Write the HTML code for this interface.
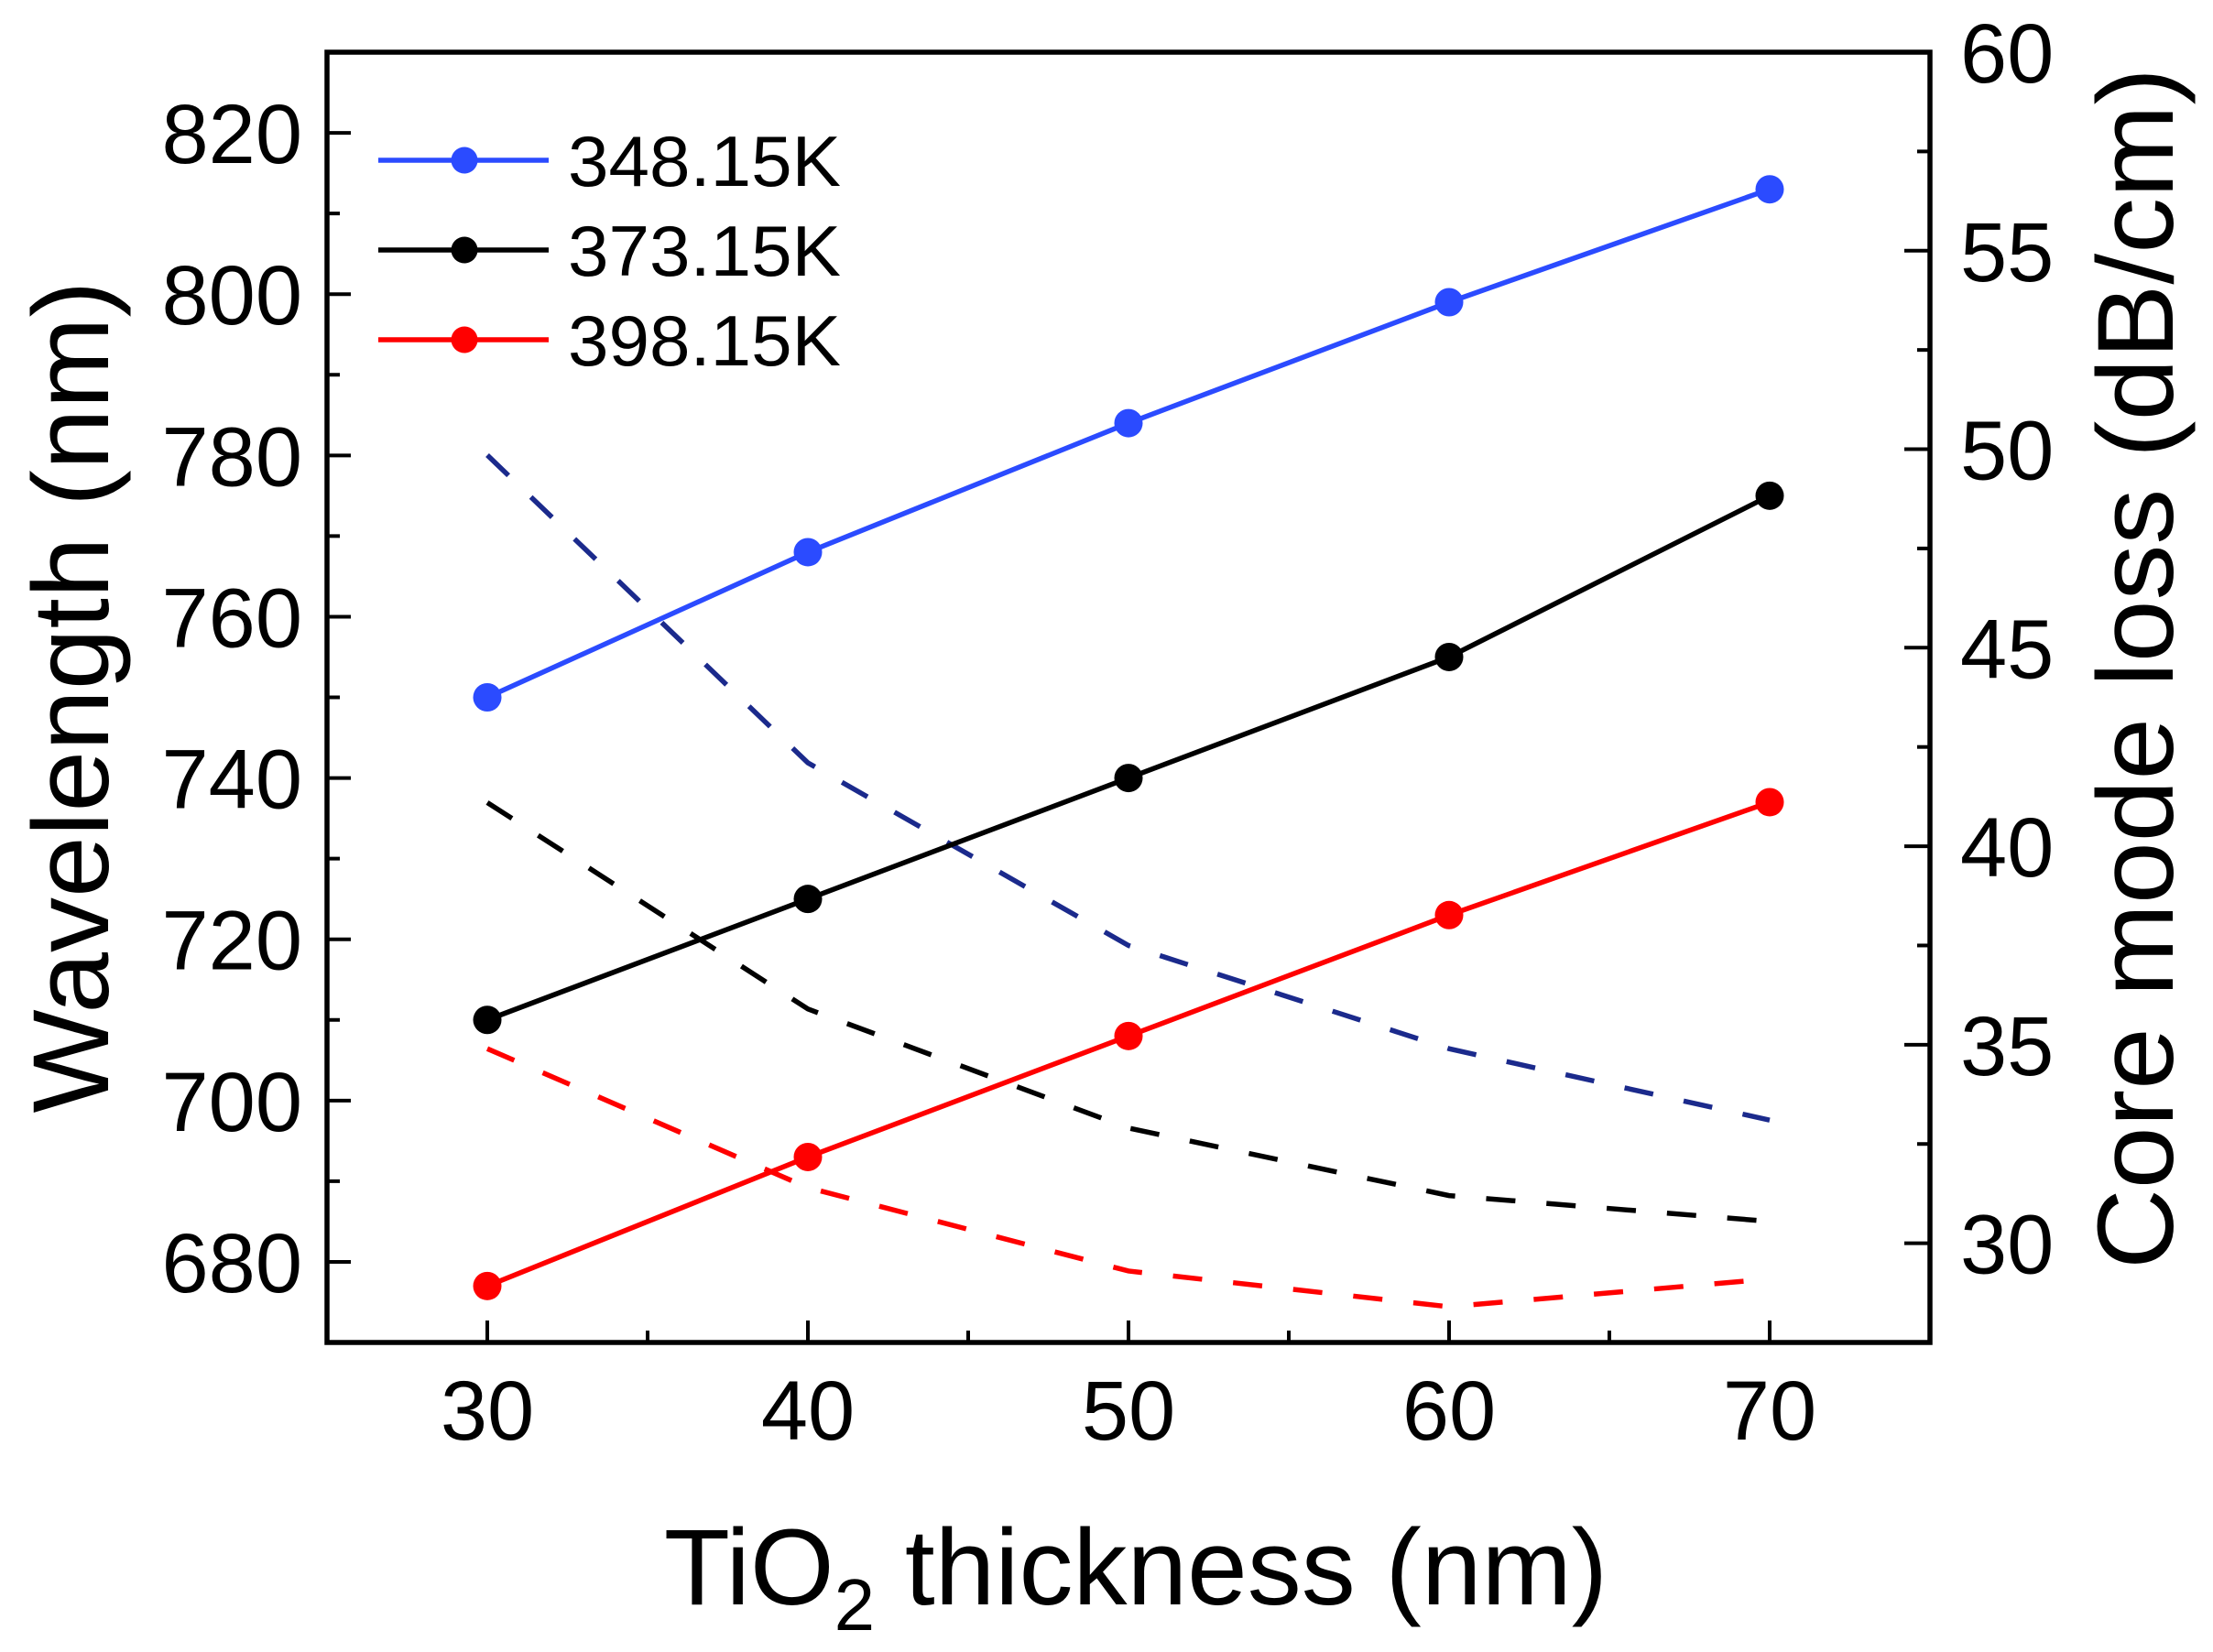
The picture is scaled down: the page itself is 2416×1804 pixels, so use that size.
<!DOCTYPE html>
<html><head><meta charset="utf-8"><style>
html,body{margin:0;padding:0;background:#fff}
svg{display:block}
text{font-family:"Liberation Sans",Arial,sans-serif;fill:#000}
</style></head><body>
<svg id="chart" width="2416" height="1804" viewBox="0 0 2416 1804" xmlns="http://www.w3.org/2000/svg">
<g id="axes"></g>
<g id="series"></g>
<g id="legend"></g>
</svg>
<script>
const thickness = [30, 40, 50, 60, 70];
const wl348 = [750, 768, 784, 799, 813];
const wl373 = [710, 725, 740, 755, 775];
const wl398 = [677, 693, 708, 723, 737];
const loss348 = [49.85, 42.1, 37.5, 34.9, 33.1];
const loss373 = [41.1, 35.9, 32.9, 31.2, 30.55];
const loss398 = [34.9, 31.4, 29.3, 28.4, 29.1];
const xTicks = [30, 40, 50, 60, 70];
const yLeftTicks = [680, 700, 720, 740, 760, 780, 800, 820];
const yRightTicks = [30, 35, 40, 45, 50, 55, 60];
const seriesNames = ["348.15K", "373.15K", "398.15K"];

const NS = "http://www.w3.org/2000/svg";
const L = 357, R = 2107, T = 57, B = 1466;
const X = v => L + (v - 25) / 50 * (R - L);
const YL = v => B - (v - 670) / 160 * (B - T);
const YR = v => B - (v - 27.5) / 32.5 * (B - T);
function mk(tag, attrs, parent, txt) {
  const e = document.createElementNS(NS, tag);
  for (const k in attrs) e.setAttribute(k, attrs[k]);
  if (txt !== undefined) e.textContent = txt;
  parent.appendChild(e);
  return e;
}
const axes = document.getElementById('axes');
const ser = document.getElementById('series');
const leg = document.getElementById('legend');

let fr = mk('rect', {x: L, y: T, width: R - L, height: B - T, fill: 'none', stroke: '#000', 'stroke-width': 5.5}, axes);



for (let v = 25; v <= 75; v += 5) {
  const major = xTicks.includes(v);
  const t = mk('line', {x1: X(v), x2: X(v), y1: B, y2: B - (major ? 24 : 13), stroke: '#000', 'stroke-width': 4}, axes);
  
  
}
xTicks.forEach(v => {
  const t = mk('text', {x: X(v), y: 1572, 'font-size': 92, 'text-anchor': 'middle'}, axes, String(v));
  
  
});
for (let v = 670; v <= 830; v += 10) {
  const major = yLeftTicks.includes(v);
  const t = mk('line', {x1: L, x2: L + (major ? 26 : 14), y1: YL(v), y2: YL(v), stroke: '#000', 'stroke-width': 4}, axes);
  
  
}
yLeftTicks.forEach(v => {
  const t = mk('text', {x: 330, y: YL(v) + 33, 'font-size': 92, 'text-anchor': 'end'}, axes, String(v));
  
  
});
for (let v = 30; v <= 60; v += 2.5) {
  const major = yRightTicks.includes(v);
  const t = mk('line', {x1: R, x2: R - (major ? 28 : 14), y1: YR(v), y2: YR(v), stroke: '#000', 'stroke-width': 4}, axes);
  
  
}
yRightTicks.forEach(v => {
  const t = mk('text', {x: 2140, y: YR(v) + 33, 'font-size': 92, 'text-anchor': 'start'}, axes, String(v));
  
  
});
let xt = mk('text', {x: 1240, y: 1752, 'font-size': 118, 'text-anchor': 'middle'}, axes);


mk('tspan', {}, xt, 'TiO');
mk('tspan', {'font-size': 80, dy: 28}, xt, '2');
mk('tspan', {dy: -28}, xt, ' thickness (nm)');
let yt = mk('text', {x: 0, y: 0, 'font-size': 118, 'text-anchor': 'middle', transform: 'translate(118,761) rotate(-90)', textLength: 909, lengthAdjust: 'spacingAndGlyphs'}, axes, 'Wavelength (nm)');


let yr = mk('text', {x: 0, y: 0, 'font-size': 118, 'text-anchor': 'middle', transform: 'translate(2372,730) rotate(-90)', textLength: 1312, lengthAdjust: 'spacingAndGlyphs'}, axes, 'Core mode loss (dB/cm)');



const dashed = [[loss348, '#1b2a8c', 'loss-348'], [loss373, '#000', 'loss-373'], [loss398, '#ff0000', 'loss-398']];
dashed.forEach(([arr, col, nm]) => {
  const pts = thickness.map((x, i) => X(x) + ',' + YR(arr[i])).join(' ');
  const p = mk('polyline', {points: pts, fill: 'none', stroke: col, 'stroke-width': 5.5, 'stroke-dasharray': '32 34'}, ser);
  
  
});
const solids = [[wl348, '#2b4bff', 'wavelength-348'], [wl373, '#000', 'wavelength-373'], [wl398, '#ff0000', 'wavelength-398']];
solids.forEach(([arr, col, nm]) => {
  const pts = thickness.map((x, i) => X(x) + ',' + YL(arr[i])).join(' ');
  const p = mk('polyline', {points: pts, fill: 'none', stroke: col, 'stroke-width': 5.5}, ser);
  
  
  thickness.forEach((x, i) => {
    const c = mk('circle', {cx: X(x), cy: YL(arr[i]), r: 15.5, fill: col}, ser);
    
    
  });
});
const legCols = ['#2b4bff', '#000', '#ff0000'];
const legY = [175, 273, 371];
seriesNames.forEach((s, i) => {
  const g = mk('g', {}, leg);
  
  
  mk('line', {x1: 413, x2: 599, y1: legY[i], y2: legY[i], stroke: legCols[i], 'stroke-width': 5.5}, g);
  mk('circle', {cx: 507, cy: legY[i], r: 14.5, fill: legCols[i]}, g);
  mk('text', {x: 620, y: legY[i] + 28, 'font-size': 78, textLength: 298, lengthAdjust: 'spacingAndGlyphs'}, g, s);
});
</script>
</body></html>
